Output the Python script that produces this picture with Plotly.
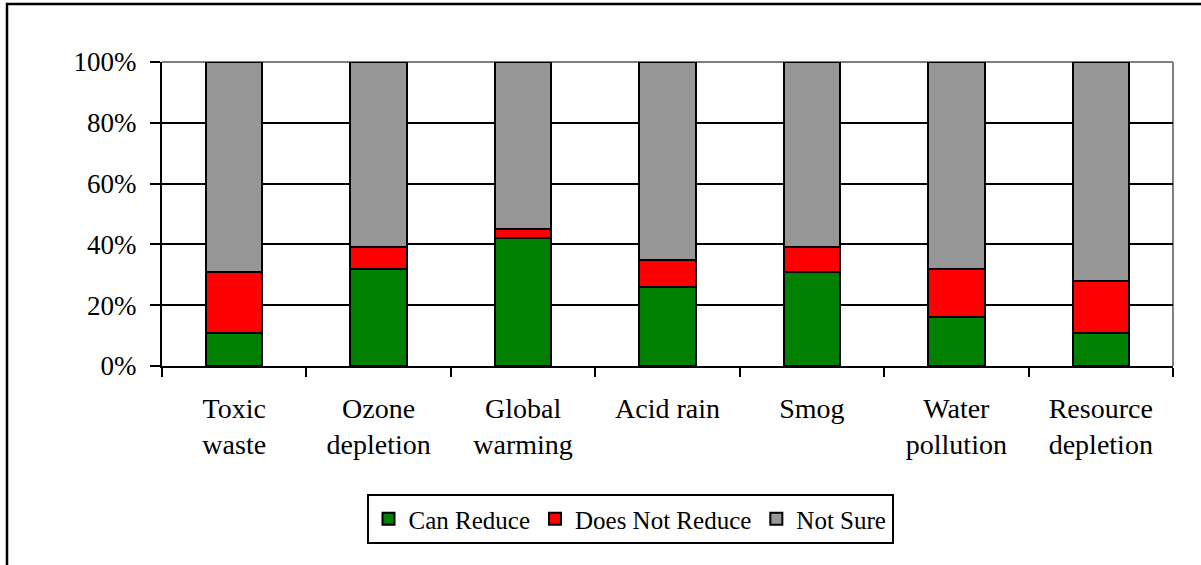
import plotly.graph_objects as go

categories = ["Toxic<br>waste", "Ozone<br>depletion", "Global<br>warming", "Acid rain",
              "Smog", "Water<br>pollution", "Resource<br>depletion"]
can_reduce = [11, 32, 42, 26, 31, 16, 11]
does_not_reduce = [20, 7, 3, 9, 8, 16, 17]
not_sure = [100 - a - b for a, b in zip(can_reduce, does_not_reduce)]
y_ticks = [0, 20, 40, 60, 80, 100]
y_tick_labels = [f"{v}%" for v in y_ticks]

FONT = "Liberation Serif"
W, H = 1201, 565
L, R, T, B = 162, 1173, 62, 366

fig = go.Figure()
for name, vals, col in [("Can Reduce", can_reduce, "#008000"),
                        ("Does Not Reduce", does_not_reduce, "#FF0000"),
                        ("Not Sure", not_sure, "#969696")]:
    fig.add_trace(go.Bar(x=categories, y=vals, name=name, width=0.39,
                         marker=dict(color=col, line=dict(color="black", width=2))))

def px2x(p):
    return (p - L) / (R - L)

def px2y(p):
    return (B - p) / (B - T)

fig.update_layout(
    width=W, height=H,
    barmode="stack",
    paper_bgcolor="white", plot_bgcolor="white",
    margin=dict(l=L, r=W - R, t=T, b=H - B),
    font=dict(family=FONT, size=26, color="black"),
    showlegend=True,
    legend=dict(orientation="h", x=px2x(630), y=px2y(519), xanchor="center", yanchor="middle",
                bordercolor="black", borderwidth=2, font=dict(family=FONT, size=25),
                traceorder="normal", itemwidth=30),
    xaxis=dict(showline=True, linecolor="black", linewidth=2, ticks="outside", ticklen=9,
               tickwidth=2, tickcolor="black", tickson="boundaries", showgrid=False,
               tickfont=dict(family=FONT, size=28), ticklabelstandoff=16),
    yaxis=dict(range=[0, 100], tickvals=y_ticks, ticktext=y_tick_labels, showline=True,
               linecolor="black", linewidth=2, ticks="outside", ticklen=10, tickwidth=2,
               tickcolor="black", showgrid=True, gridcolor="black", gridwidth=1.5,
               zeroline=False, tickfont=dict(family=FONT, size=27), ticklabelstandoff=8),
    shapes=[
        dict(type="line", xref="paper", yref="paper", x0=0, x1=1, y0=1, y1=1,
             line=dict(color="#808080", width=2), layer="between"),
        dict(type="line", xref="paper", yref="paper", x0=1, x1=1, y0=0, y1=1,
             line=dict(color="#808080", width=2), layer="between"),
        dict(type="rect", xref="paper", yref="paper", x0=px2x(7), x1=px2x(1210),
             y0=px2y(575), y1=px2y(4), line=dict(color="black", width=2.5)),
    ],
)

fig.write_html("out.html", config={"displayModeBar": False},
               post_script="document.body.style.margin='0';document.body.style.overflow='hidden';")
